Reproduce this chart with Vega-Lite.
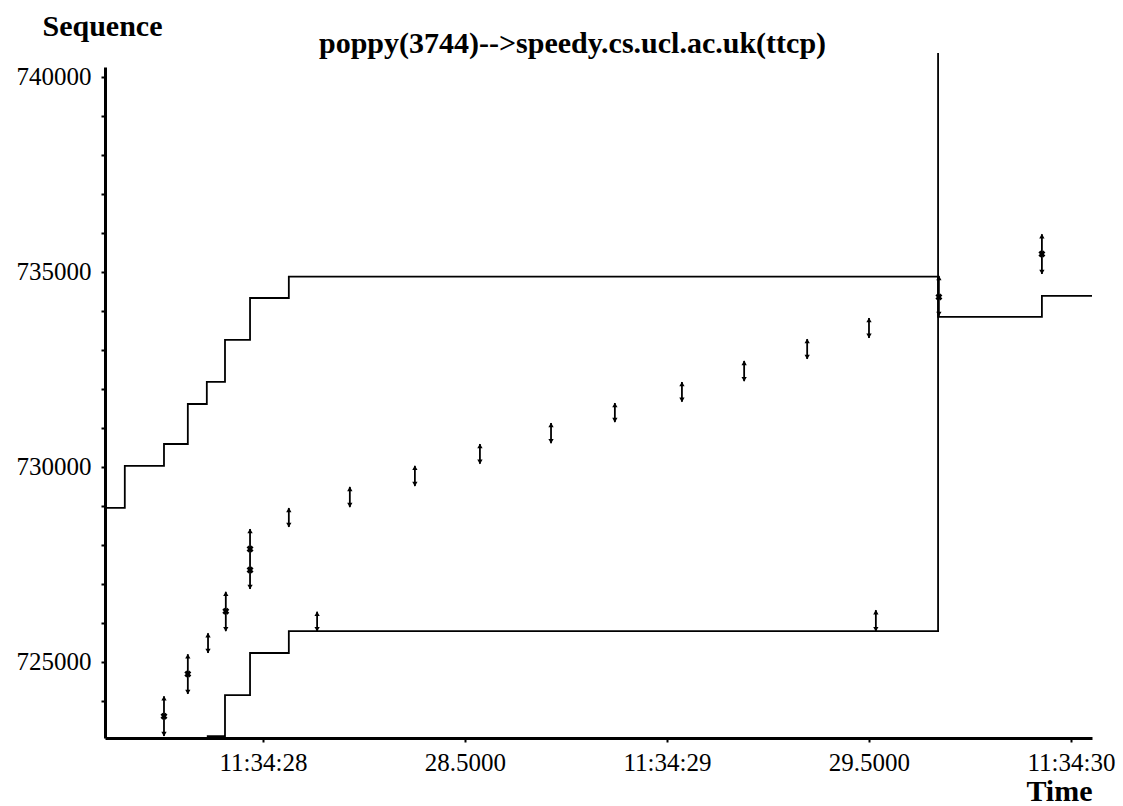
{
  "$schema": "https://vega.github.io/schema/vega-lite/v6.json",
  "width": 987,
  "height": 671,
  "autosize": {"type": "none"},
  "padding": {"left": 105, "top": 67, "right": 31, "bottom": 68},
  "background": "white",
  "config": {"view": {"stroke": null}, "font": "Liberation Serif"},
  "title": {
    "text": "poppy(3744)-->speedy.cs.ucl.ac.uk(ttcp)",
    "font": "Liberation Serif",
    "fontSize": 30,
    "fontWeight": "bold",
    "color": "black",
    "anchor": "middle",
    "baseline": "alphabetic",
    "offset": 12,
    "dx": -26,
    "dy": 84
  },
  "datasets": {
    "window": [
      {"t": 27.609, "seq": 728950},
      {"t": 27.658, "seq": 730030},
      {"t": 27.755, "seq": 730590},
      {"t": 27.814, "seq": 731615},
      {"t": 27.861, "seq": 732180},
      {"t": 27.906, "seq": 733257},
      {"t": 27.968, "seq": 734333},
      {"t": 28.064, "seq": 734880},
      {"t": 29.671, "seq": 733850},
      {"t": 29.928, "seq": 734385},
      {"t": 30.052, "seq": 734385}
    ],
    "ack": [
      {"t": 27.861, "seq": 723100},
      {"t": 27.906, "seq": 724150},
      {"t": 27.968, "seq": 725230},
      {"t": 28.064, "seq": 725790},
      {"t": 29.671, "seq": 740615}
    ],
    "segs": [
      {"t": 27.755, "seq": 724120, "seq2": 723100},
      {"t": 27.814, "seq": 725200, "seq2": 724180},
      {"t": 27.864, "seq": 725740, "seq2": 725230},
      {"t": 27.908, "seq": 726800, "seq2": 725790},
      {"t": 27.968, "seq": 728410, "seq2": 726870},
      {"t": 28.064, "seq": 728950, "seq2": 728460},
      {"t": 28.134, "seq": 726290, "seq2": 725790},
      {"t": 28.215, "seq": 729490, "seq2": 728970},
      {"t": 28.376, "seq": 730030, "seq2": 729510},
      {"t": 28.537, "seq": 730590, "seq2": 730080},
      {"t": 28.713, "seq": 731130, "seq2": 730610},
      {"t": 28.871, "seq": 731640, "seq2": 731150},
      {"t": 29.037, "seq": 732180, "seq2": 731670},
      {"t": 29.191, "seq": 732720, "seq2": 732200},
      {"t": 29.347, "seq": 733280, "seq2": 732770},
      {"t": 29.5, "seq": 733820, "seq2": 733310},
      {"t": 29.517, "seq": 726330, "seq2": 725790},
      {"t": 29.673, "seq": 734900, "seq2": 733870},
      {"t": 29.928, "seq": 735970, "seq2": 734950}
    ],
    "xmarks": [
      {"t": 27.755, "seq": 723610},
      {"t": 27.814, "seq": 724690},
      {"t": 27.908, "seq": 726300},
      {"t": 27.968, "seq": 727360},
      {"t": 27.968, "seq": 727900},
      {"t": 29.673, "seq": 734360},
      {"t": 29.928, "seq": 735460}
    ]
  },
  "encoding": {
    "x": {
      "field": "t",
      "type": "quantitative",
      "scale": {"domain": [27.609, 30.052], "nice": false, "zero": false},
      "axis": {
        "title": "Time",
        "titleFont": "Liberation Serif",
        "titleFontSize": 30,
        "titleFontWeight": "bold",
        "titleColor": "black",
        "titleAlign": "right",
        "titleAnchor": null,
        "titleBaseline": "alphabetic",
        "titleX": 987,
        "titleY": 62,
        "values": [28, 28.5, 29, 29.5, 30],
        "labelExpr": "datum.value % 1 === 0 ? '11:34:' + format(datum.value, '02d') : format(datum.value, '.4f')",
        "labelFont": "Liberation Serif",
        "labelFontSize": 25,
        "labelColor": "black",
        "labelPadding": 8,
        "labelFlush": false,
        "labelOverlap": false,
        "tickSize": 4,
        "tickWidth": 2,
        "tickColor": "black",
        "domainColor": "black",
        "domainWidth": 3,
        "grid": false
      }
    },
    "y": {
      "field": "seq",
      "type": "quantitative",
      "scale": {"domain": [723051, 740256], "nice": false, "zero": false},
      "axis": {
        "title": "Sequence",
        "titleFont": "Liberation Serif",
        "titleFontSize": 30,
        "titleFontWeight": "bold",
        "titleColor": "black",
        "titleAngle": 0,
        "titleAlign": "left",
        "titleAnchor": null,
        "titleBaseline": "alphabetic",
        "titleX": -63,
        "titleY": -32,
        "values": [724000, 725000, 726000, 727000, 728000, 729000, 730000, 731000, 732000, 733000, 734000, 735000, 736000, 737000, 738000, 739000, 740000],
        "labelExpr": "datum.value % 5000 === 0 ? format(datum.value, 'd') : ''",
        "labelFont": "Liberation Serif",
        "labelFontSize": 25,
        "labelColor": "black",
        "labelPadding": 10,
        "labelFlush": false,
        "labelOverlap": false,
        "tickSize": 4,
        "tickWidth": 2,
        "tickColor": "black",
        "domainColor": "black",
        "domainWidth": 3,
        "grid": false
      }
    }
  },
  "layer": [
    {
      "data": {"name": "window"},
      "mark": {"type": "line", "interpolate": "step-after", "color": "black", "strokeWidth": 1.8}
    },
    {
      "data": {"name": "ack"},
      "mark": {"type": "line", "interpolate": "step-after", "color": "black", "strokeWidth": 1.8}
    },
    {
      "data": {"name": "segs"},
      "mark": {"type": "rule", "color": "black", "strokeWidth": 1.8},
      "encoding": {"y2": {"field": "seq2"}}
    },
    {
      "data": {"name": "segs"},
      "mark": {"type": "point", "shape": "triangle-up", "filled": true, "color": "black", "size": 28, "opacity": 1, "yOffset": 2}
    },
    {
      "data": {"name": "segs"},
      "mark": {"type": "point", "shape": "triangle-down", "filled": true, "color": "black", "size": 28, "opacity": 1, "yOffset": -2},
      "encoding": {"y": {"field": "seq2", "type": "quantitative"}}
    },
    {
      "data": {"name": "xmarks"},
      "mark": {"type": "point", "shape": "cross", "angle": 45, "filled": true, "color": "black", "size": 50, "opacity": 1}
    }
  ]
}
